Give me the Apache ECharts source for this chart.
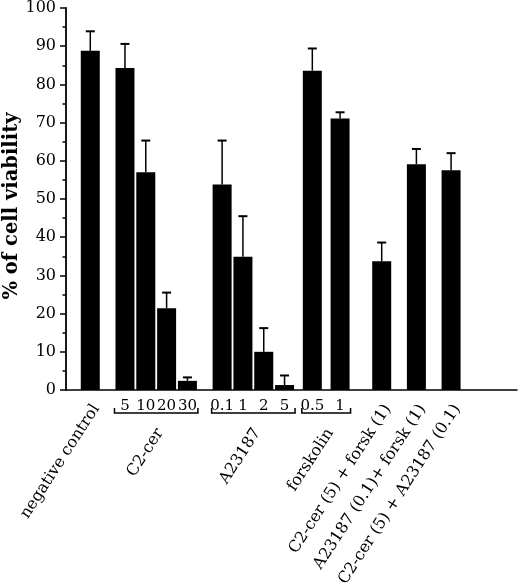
<!DOCTYPE html>
<html><head><meta charset="utf-8">
<script src="https://cdn.jsdelivr.net/npm/echarts@6/dist/echarts.min.js"></script>
<style>html,body{margin:0;padding:0;background:#fff}#c{width:520px;height:585px}</style>
</head><body><div id="c"></div>
<script>
// ---- data ----
const barNames = ['negative control', '', '', '', '', '', '', '', '', '', '',
  'C2-cer (5) + forsk (1)', 'A23187 (0.1)+ forsk (1)', 'C2-cer (5) + A23187 (0.1)'];
const doseLabels = ['', '5', '10', '20', '30', '0.1', '1', '2', '5', '0.5', '1', '', '', ''];
const viability = [88.8, 84.3, 57.0, 21.4, 2.4, 53.8, 34.9, 10.0, 1.3, 83.6, 71.1, 33.7, 59.1, 57.5];
const errorTop  = [93.9, 90.6, 65.3, 25.5, 3.3, 65.3, 45.5, 16.2, 3.8, 89.4, 72.7, 38.6, 63.1, 62.0];
const groupNames = ['C2-cer', 'A23187', 'forskolin'];
const groupFirst = [1, 5, 9];
const groupLast  = [4, 8, 10];
const yTickValues = [0, 10, 20, 30, 40, 50, 60, 70, 80, 90, 100];

// ---- layout (category slots on the x axis) ----
const slotCount = 65;
const slotOf = [3, 8, 11, 14, 17, 22, 25, 28, 31, 35, 39, 45, 50, 55];

const FONT = 'DejaVu Serif';
const slotCats = [];
const slotLabels = [];
const barData = [];
for (let i = 0; i < slotCount; i++) { slotCats.push('s' + i); slotLabels.push(''); barData.push('-'); }
slotOf.forEach((s, i) => { slotLabels[s] = doseLabels[i]; barData[s] = viability[i]; });
const errData = slotOf.map((s, i) => [s, viability[i], errorTop[i]]);

const chart = echarts.init(document.getElementById('c'), null, {renderer: 'canvas'});
chart.setOption({
  animation: false,
  backgroundColor: '#fff',
  grid: {left: 66, top: 8, right: 3, bottom: 195, containLabel: false, outerBoundsMode: 'none'},
  xAxis: {
    type: 'category', data: slotCats, boundaryGap: true,
    axisLine: {show: true, lineStyle: {color: '#000', width: 1.5}},
    axisTick: {show: false},
    axisLabel: {interval: 0, margin: 9, color: '#000', fontFamily: FONT, fontSize: 15,
      formatter: (v, idx) => slotLabels[idx]},
    splitLine: {show: false}
  },
  yAxis: {
    type: 'value', min: yTickValues[0], max: yTickValues[yTickValues.length - 1], interval: 10,
    name: '% of cell viability', nameLocation: 'middle', nameGap: 44, nameMoveOverlap: false,
    nameTextStyle: {fontFamily: FONT, fontWeight: 'bold', fontSize: 19.5, color: '#000', padding: [0, 14, 0, 0]},
    axisLine: {show: true, lineStyle: {color: '#000', width: 1.8}},
    axisTick: {show: true, inside: false, length: 6, lineStyle: {color: '#000', width: 1.5}},
    minorTick: {show: true, splitNumber: 2, length: 3.5, lineStyle: {color: '#000', width: 1.5}},
    axisLabel: {margin: 10, color: '#000', fontFamily: FONT, fontSize: 16},
    splitLine: {show: false}
  },
  series: [
    {type: 'bar', data: barData, barWidth: 19, itemStyle: {color: '#000'}, silent: true},
    {type: 'custom', data: errData, silent: true, z: 3,
      renderItem: (params, api) => {
        const base = api.coord([api.value(0), api.value(1)]);
        const top = api.coord([api.value(0), api.value(2)]);
        return {type: 'group', children: [
          {type: 'line', shape: {x1: base[0], y1: base[1], x2: top[0], y2: top[1]},
            style: {stroke: '#000', lineWidth: 1.5}},
          {type: 'line', shape: {x1: top[0] - 4.5, y1: top[1], x2: top[0] + 4.5, y2: top[1]},
            style: {stroke: '#000', lineWidth: 2}}
        ]};
      }}
  ]
});

// ---- annotations placed through the axis scales ----
const axisY = chart.convertToPixel({yAxisIndex: 0}, 0);
const px = i => chart.convertToPixel({xAxisIndex: 0}, slotOf[i]);
const rot = 57 * Math.PI / 180;
const graphics = [];
barNames.forEach((name, i) => {
  if (!name) return;
  graphics.push({type: 'text', x: px(i) + 6, y: axisY + 16, rotation: rot,
    style: {text: name, align: 'right', verticalAlign: 'middle', fill: '#000',
      font: '16px "' + FONT + '"'}});
});
groupNames.forEach((name, g) => {
  const x1 = px(groupFirst[g]) - 10.5;
  const x2 = px(groupLast[g]) + 10.5;
  graphics.push({type: 'polyline', shape: {points: [[x1, axisY + 18], [x1, axisY + 23], [x2, axisY + 23], [x2, axisY + 18]]},
    style: {stroke: '#000', lineWidth: 1.5, fill: null}});
  const cx = (px(groupFirst[g]) + px(groupLast[g])) / 2;
  graphics.push({type: 'text', x: cx + 4, y: axisY + 40, rotation: rot,
    style: {text: name, align: 'right', verticalAlign: 'middle', fill: '#000',
      font: '16px "' + FONT + '"'}});
});
chart.setOption({graphic: graphics});
</script></body></html>
